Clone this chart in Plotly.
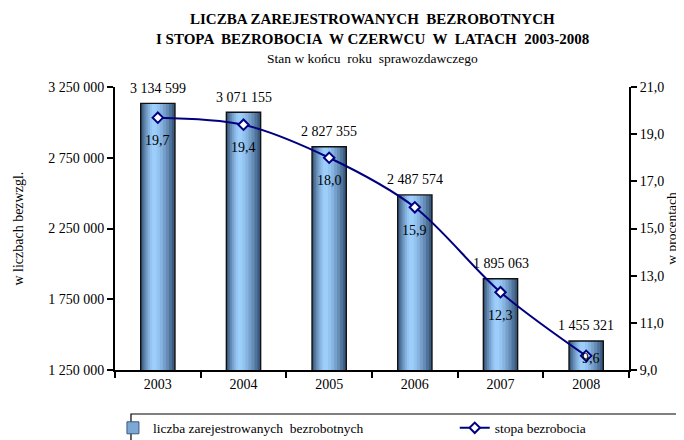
import plotly.graph_objects as go

years = ["2003", "2004", "2005", "2006", "2007", "2008"]
unemployed = [3134599, 3071155, 2827355, 2487574, 1895063, 1455321]
rate = [19.7, 19.4, 18.0, 15.9, 12.3, 9.6]

bar_name = "liczba zarejestrowanych  bezrobotnych"
line_name = "stopa bezrobocia"

FONT = "Liberation Serif"
pos = list(range(len(years)))

fig = go.Figure()

# Gradient cylinder look via overlaid bars
W = 0.40
left, right = -W / 2, W / 2
center = left + W * 0.38
colors = ["#3a5a80", "#4f7399", "#648cb5", "#779fcb", "#87b3e0", "#93c3f0", "#9dcefa"]
n = len(colors)
for i, c in enumerate(colors):
    a = left + (center - left) * i / n
    b = right - (right - center) * i / n
    fig.add_trace(go.Bar(
        x=pos, y=unemployed, width=b - a, offset=a,
        marker=dict(color=c, line=dict(width=0)),
        showlegend=False, hoverinfo="skip", yaxis="y",
    ))
# outline layer
fig.add_trace(go.Bar(
    x=pos, y=unemployed, width=W, offset=left, name=bar_name,
    marker=dict(color="rgba(0,0,0,0)", line=dict(color="#111111", width=1.4)),
    showlegend=False, yaxis="y",
))
# legend-only entry (zero-height bar)
fig.add_trace(go.Bar(
    x=[pos[0]], y=[0], name=bar_name, width=W, offset=left,
    marker=dict(color="#7ca8d3", line=dict(color="#3a5a80", width=1)),
    showlegend=True, hoverinfo="skip", yaxis="y", legend="legend",
))

fig.add_trace(go.Scatter(
    x=pos, y=rate, name=line_name, yaxis="y2", mode="lines+markers", legend="legend2",
    line=dict(color="#000080", width=2, shape="spline", smoothing=0.9),
    marker=dict(symbol="diamond", size=8, color="white", line=dict(color="#000080", width=2)),
))

annotations = []
for p, v in zip(pos, unemployed):
    annotations.append(dict(
        x=p, y=v, xref="x", yref="y", text=f"{v:,}".replace(",", " "),
        showarrow=False, yshift=15, xanchor="center", yanchor="middle",
        font=dict(family=FONT, size=14, color="black"),
    ))
for i, (p, v) in enumerate(zip(pos, rate)):
    last = i == len(pos) - 1
    annotations.append(dict(
        x=p, y=v, xref="x", yref="y2", text=f"{v:.1f}".replace(".", ","),
        showarrow=False, yshift=-3 if last else -23, xshift=5 if last else 0,
        xanchor="center", yanchor="middle",
        font=dict(family=FONT, size=14, color="black"),
    ))

annotations += [
    dict(text="<b>LICZBA ZAREJESTROWANYCH  BEZROBOTNYCH</b>", x=0.5, y=1.24, xref="paper", yref="paper",
         xanchor="center", yanchor="middle", showarrow=False, font=dict(family=FONT, size=15, color="black")),
    dict(text="<b>I STOPA  BEZROBOCIA  W CZERWCU  W  LATACH  2003-2008</b>", x=0.5, y=1.168, xref="paper", yref="paper",
         xanchor="center", yanchor="middle", showarrow=False, font=dict(family=FONT, size=15, color="black")),
    dict(text="Stan w końcu  roku  sprawozdawczego", x=0.5, y=1.102, xref="paper", yref="paper",
         xanchor="center", yanchor="middle", showarrow=False, font=dict(family=FONT, size=13.5, color="black")),
    dict(text="w liczbach bezwzgl.", x=-0.1877, y=0.498, xref="paper", yref="paper", textangle=-90,
         xanchor="center", yanchor="middle", showarrow=False, font=dict(family=FONT, size=14, color="black")),
]

# legend frame (with a small drop shadow)
shapes = [
    dict(type="rect", xref="paper", yref="paper", x0=0.0311 + 3 / 514, x1=1.0934 + 3 / 514,
         y0=-0.1555 - 3 / 283, y1=-0.30, fillcolor="black", line=dict(width=0)),
    dict(type="rect", xref="paper", yref="paper", x0=0.0311, x1=1.0934, y0=-0.1555, y1=-0.30,
         fillcolor="white", line=dict(color="black", width=1.2)),
]

boundaries = [p - 0.5 for p in pos] + [pos[-1] + 0.5]

legend_common = dict(orientation="h", yanchor="middle", y=-0.205, xanchor="left",
                     bgcolor="rgba(0,0,0,0)", borderwidth=0,
                     font=dict(family=FONT, size=13.5, color="black"))

fig.update_layout(
    width=684, height=440,
    margin=dict(l=107, r=63, t=79, b=78, autoexpand=False),
    paper_bgcolor="white", plot_bgcolor="white",
    barmode="overlay", separators=", ",
    font=dict(family=FONT, size=14, color="black"),
    xaxis=dict(range=[-0.5, len(pos) - 0.5], tickmode="array", tickvals=pos, ticktext=years,
               showline=True, linecolor="black", linewidth=2, ticks="outside", ticklen=0,
               showgrid=False, zeroline=False, tickfont=dict(family=FONT, size=14),
               minor=dict(tickmode="array", tickvals=boundaries, ticks="outside", ticklen=6,
                          tickwidth=2, tickcolor="black", showgrid=False)),
    yaxis=dict(range=[1250000, 3250000], dtick=500000, tick0=1250000, tickformat=",.0f",
               showline=True, linecolor="black", linewidth=2, ticks="outside", ticklen=6,
               tickwidth=2, tickcolor="black", showgrid=False, zeroline=False,
               tickfont=dict(family=FONT, size=14)),
    yaxis2=dict(range=[9, 21], dtick=2, tick0=9, tickformat=".1f", overlaying="y", side="right",
                showline=True, linecolor="black", linewidth=2, ticks="outside", ticklen=6,
                tickwidth=2, tickcolor="black", showgrid=False, zeroline=False,
                tickfont=dict(family=FONT, size=14),
                title=dict(text="w procentach", standoff=2, font=dict(family=FONT, size=13.5))),
    legend=dict(x=-0.004, **legend_common),
    legend2=dict(x=0.661, **legend_common),
    shapes=shapes,
    annotations=annotations,
)

fig.write_html("out.html")
